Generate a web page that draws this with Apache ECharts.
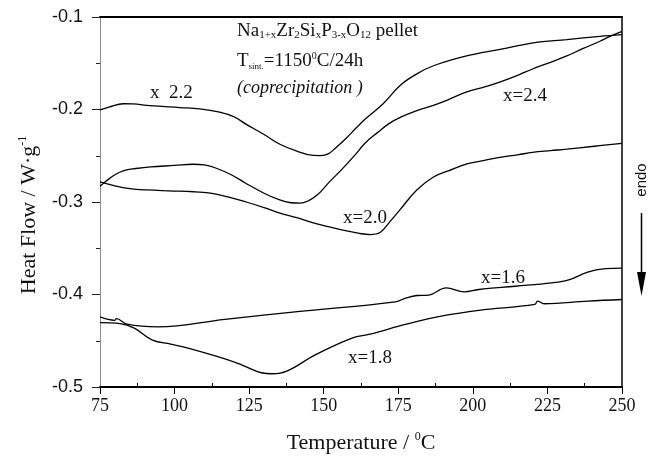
<!DOCTYPE html>
<html>
<head>
<meta charset="utf-8">
<script src="https://cdn.jsdelivr.net/npm/echarts@6/dist/echarts.min.js"></script>
<style>html,body{margin:0;padding:0;background:#fff;}#main{width:648px;height:460px;}</style>
</head>
<body>
<div id="main"></div>
<script>
// ---- data ----
const xTicks = [75, 100, 125, 150, 175, 200, 225, 250];
const xMinorTicks = [87.5, 112.5, 137.5, 162.5, 187.5, 212.5, 237.5];
const yTicks = [-0.5, -0.4, -0.3, -0.2, -0.1];

const t22 = [75, 78, 82.8, 86, 91.7, 101.7, 108.4, 115.1, 120, 124.2, 130, 135.3, 141, 146.5, 149, 151.5, 154, 157.7, 161, 164.4, 170, 175.6, 181.2, 186.8, 197.9, 209.1, 220.3, 231.5, 242.6, 250];
const v22 = [-0.2005, -0.1975, -0.1938, -0.194, -0.1958, -0.1979, -0.1993, -0.2029, -0.208, -0.2164, -0.227, -0.2376, -0.245, -0.2497, -0.2498, -0.248, -0.2415, -0.2305, -0.2195, -0.209, -0.1935, -0.174, -0.1615, -0.1527, -0.1421, -0.135, -0.1279, -0.1244, -0.1209, -0.119];

const t24 = [75, 77, 80, 83, 87, 92, 100, 106, 110, 114, 119, 124, 130, 135, 139, 142, 145, 148, 152, 156, 160, 164, 168, 172, 176, 181, 187, 192, 198, 204, 209, 215, 220, 226, 231.5, 237, 242.6, 246, 250];
const v24 = [-0.283, -0.2775, -0.2705, -0.266, -0.2638, -0.262, -0.2605, -0.2592, -0.2598, -0.2635, -0.2705, -0.28, -0.2905, -0.2975, -0.3008, -0.3013, -0.2985, -0.292, -0.278, -0.265, -0.251, -0.236, -0.225, -0.215, -0.208, -0.2015, -0.1952, -0.189, -0.181, -0.1755, -0.1703, -0.163, -0.1562, -0.149, -0.1421, -0.134, -0.1262, -0.121, -0.1156];

const t20 = [75, 80, 85, 90.6, 98, 106.3, 112, 117.5, 124, 130, 135.3, 141, 146.5, 152, 157.7, 162, 165.5, 168.9, 172, 175.6, 181.2, 186.8, 192, 198, 203, 209, 215, 220, 226, 231.5, 240, 250];
const v20 = [-0.2783, -0.2825, -0.2855, -0.287, -0.288, -0.2889, -0.2905, -0.2942, -0.3, -0.306, -0.3119, -0.317, -0.3225, -0.327, -0.3313, -0.334, -0.3352, -0.333, -0.322, -0.3083, -0.287, -0.273, -0.266, -0.2588, -0.2555, -0.2517, -0.249, -0.2464, -0.2445, -0.2429, -0.24, -0.2366];

const t16 = [75, 79.9, 80.5, 84.1, 94.4, 116.9, 141.2, 174, 177.7, 181.3, 185, 191.1, 197.1, 202, 214.2, 226.3, 232.4, 238.5, 244.5, 250];
const v16 = [-0.4243, -0.4279, -0.4261, -0.4321, -0.435, -0.4268, -0.4186, -0.4079, -0.4036, -0.4011, -0.4007, -0.3929, -0.3971, -0.3946, -0.3911, -0.3875, -0.3839, -0.3757, -0.3721, -0.3714];

const t18 = [75, 81.7, 86.5, 92.6, 98.7, 104.8, 116.9, 123, 129.1, 132.7, 137.6, 147.3, 159.5, 165.5, 177.7, 189.8, 202, 220.8, 221.7, 223.9, 238.5, 250];
const v18 = [-0.4304, -0.4314, -0.4364, -0.4493, -0.4536, -0.4582, -0.4696, -0.4768, -0.4846, -0.4857, -0.4829, -0.465, -0.4471, -0.4429, -0.4321, -0.4232, -0.4171, -0.4107, -0.4071, -0.41, -0.4071, -0.4054];

const seriesNames = ['x=2.2', 'x=2.4', 'x=2.0', 'x=1.6', 'x=1.8'];
const seriesT = [t22, t24, t20, t16, t18];
const seriesV = [v22, v24, v20, v16, v18];

// ---- chart ----
const SERIF = '"Liberation Serif", "Times New Roman", serif';
const SANS = '"Liberation Sans", Arial, sans-serif';
const chart = echarts.init(document.getElementById('main'), null, { renderer: 'canvas' });

const zip = (a, b) => a.map((v, i) => [v, b[i]]);

const option = {
  animation: false,
  backgroundColor: '#fff',
  grid: { left: 100, right: 26, top: 17, bottom: 66, containLabel: false },
  xAxis: [
    {
      type: 'value', min: xTicks[0], max: xTicks[xTicks.length - 1], interval: 25,
      position: 'bottom',
      axisLine: { show: true, lineStyle: { color: '#000', width: 2 } },
      axisTick: { show: true, inside: false, length: 7, lineStyle: { color: '#000', width: 1 } },
      axisLabel: { show: true, margin: 10, color: '#111', fontFamily: SERIF, fontSize: 18 },
      splitLine: { show: false },
      name: 'Temperature / {sup|0}C',
      nameLocation: 'middle', nameGap: 44,
      nameTextStyle: {
        fontFamily: SERIF, fontSize: 22, color: '#111', lineHeight: 24,
        rich: { sup: { fontFamily: SERIF, fontSize: 12, lineHeight: 10, verticalAlign: 'top', color: '#111' } }
      }
    },
    {
      type: 'value', min: xTicks[0], max: xTicks[xTicks.length - 1], interval: 12.5,
      position: 'bottom',
      axisLine: { show: false },
      axisTick: { show: true, inside: true, length: 4, customValues: xMinorTicks, lineStyle: { color: '#000', width: 1 } },
      axisLabel: { show: false },
      splitLine: { show: false }
    },
    {
      type: 'value', min: xTicks[0], max: xTicks[xTicks.length - 1],
      position: 'top',
      axisLine: { show: true, lineStyle: { color: '#000', width: 2 } },
      axisTick: { show: false }, axisLabel: { show: false }, splitLine: { show: false }
    }
  ],
  yAxis: [
    {
      type: 'value', min: yTicks[0], max: yTicks[yTicks.length - 1], interval: 0.1,
      position: 'left',
      axisLine: { show: true, lineStyle: { color: '#8c8c8c', width: 1 } },
      axisTick: { show: true, inside: false, length: 8, lineStyle: { color: '#222', width: 1 } },
      minorTick: { show: true, splitNumber: 2, length: 4, lineStyle: { color: '#222', width: 1 } },
      axisLabel: { show: true, margin: 17, color: '#111', fontFamily: SANS, fontSize: 18,
        formatter: v => v.toFixed(1) },
      splitLine: { show: false }, minorSplitLine: { show: false }
    },
    {
      type: 'value', min: yTicks[0], max: yTicks[yTicks.length - 1],
      position: 'right',
      axisLine: { show: true, lineStyle: { color: '#000', width: 1.5 } },
      axisTick: { show: false }, axisLabel: { show: false }, splitLine: { show: false }
    }
  ],
  series: seriesNames.map((n, i) => ({
    name: n, type: 'line', xAxisIndex: 0, yAxisIndex: 0,
    data: zip(seriesT[i], seriesV[i]),
    showSymbol: false, smooth: 0.4,
    lineStyle: { color: '#000', width: 1.3 },
    z: 3
  })),
  graphic: [
    { type: 'text', x: 237, y: 21, z: 10, style: {
        text: '{m|Na}{s|1+x}{m|Zr}{s|2}{m|Si}{s|x}{m|P}{s|3-x}{m|O}{s|12}{m| pellet}',
        align: 'left', verticalAlign: 'top', fill: '#111',
        rich: {
          m: { fontFamily: SERIF, fontSize: 19, lineHeight: 20, fill: '#111' },
          s: { fontFamily: SERIF, fontSize: 11, lineHeight: 4, verticalAlign: 'bottom', fill: '#111' }
        } } },
    { type: 'text', x: 237, y: 51, z: 10, style: {
        text: '{m|T}{s|sint.}{m|=1150}{p|0}{m|C/24h}',
        align: 'left', verticalAlign: 'top', fill: '#111',
        rich: {
          m: { fontFamily: SERIF, fontSize: 19, lineHeight: 20, fill: '#111' },
          s: { fontFamily: SERIF, fontSize: 9, lineHeight: 6, verticalAlign: 'bottom', fill: '#111' },
          p: { fontFamily: SERIF, fontSize: 10, lineHeight: 10, verticalAlign: 'top', fill: '#111' }
        } } },
    { type: 'text', x: 237, y: 88, z: 10, style: {
        text: '(coprecipitation )', align: 'left', verticalAlign: 'middle',
        fontFamily: SERIF, fontSize: 18, fontStyle: 'italic', fill: '#111' } },

    { type: 'text', x: 150, y: 93, z: 10, style: { text: 'x  2.2', align: 'left', verticalAlign: 'middle', fontFamily: SERIF, fontSize: 19, fill: '#111' } },
    { type: 'text', x: 503, y: 96, z: 10, style: { text: 'x=2.4', align: 'left', verticalAlign: 'middle', fontFamily: SERIF, fontSize: 19, fill: '#111' } },
    { type: 'text', x: 343, y: 218, z: 10, style: { text: 'x=2.0', align: 'left', verticalAlign: 'middle', fontFamily: SERIF, fontSize: 19, fill: '#111' } },
    { type: 'text', x: 481, y: 278, z: 10, style: { text: 'x=1.6', align: 'left', verticalAlign: 'middle', fontFamily: SERIF, fontSize: 19, fill: '#111' } },
    { type: 'text', x: 348, y: 358, z: 10, style: { text: 'x=1.8', align: 'left', verticalAlign: 'middle', fontFamily: SERIF, fontSize: 19, fill: '#111' } },

    { type: 'text', x: 29, y: 215, rotation: Math.PI / 2, z: 10, style: {
        text: '{m|Heat Flow / W·g}{p|-1}', align: 'center', verticalAlign: 'middle', fill: '#111',
        rich: {
          m: { fontFamily: SERIF, fontSize: 22, lineHeight: 24, fill: '#111' },
          p: { fontFamily: SERIF, fontSize: 12, lineHeight: 10, verticalAlign: 'top', fill: '#111' }
        } } },

    { type: 'text', x: 642, y: 180, rotation: Math.PI / 2, z: 10, style: {
        text: 'endo', align: 'center', verticalAlign: 'middle', fontFamily: SANS, fontSize: 15, fill: '#111' } },
    { type: 'line', z: 10, shape: { x1: 641.5, y1: 213, x2: 641.5, y2: 280 }, style: { stroke: '#000', lineWidth: 1.5 } },
    { type: 'polygon', z: 10, shape: { points: [[637, 272], [646, 272], [641.5, 296]] }, style: { fill: '#000' } }
  ]
};
chart.setOption(option);
</script>
</body>
</html>
